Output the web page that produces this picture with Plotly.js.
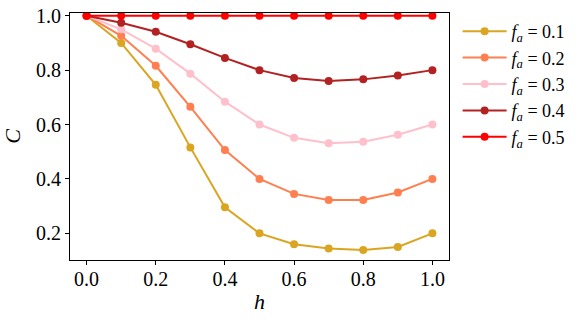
<!DOCTYPE html>
<html>
<head>
<meta charset="utf-8">
<script src="https://cdn.plot.ly/plotly-3.0.1.min.js"></script>
<style>
  html, body { margin: 0; padding: 0; background: #fff; }
  #chart { width: 581px; height: 323px; }
</style>
</head>
<body>
<div id="chart"></div>
<script>
const hValues = [0.0, 0.1, 0.2, 0.3, 0.4, 0.5, 0.6, 0.7, 0.8, 0.9, 1.0];

const c01 = [1.0, 0.90, 0.746, 0.516, 0.296, 0.20, 0.16, 0.144, 0.139, 0.15, 0.20];
const c02 = [1.0, 0.926, 0.816, 0.665, 0.506, 0.40, 0.345, 0.323, 0.323, 0.35, 0.40];
const c03 = [1.0, 0.95, 0.879, 0.787, 0.684, 0.60, 0.551, 0.531, 0.537, 0.5625, 0.60];
const c04 = [1.0, 0.974, 0.941, 0.895, 0.845, 0.80, 0.771, 0.76, 0.766, 0.78, 0.80];
const c05 = [1.0, 1.0, 1.0, 1.0, 1.0, 1.0, 1.0, 1.0, 1.0, 1.0, 1.0];

const seriesLabels = ['0.1', '0.2', '0.3', '0.4', '0.5'];
const seriesValues = [c01, c02, c03, c04, c05];
const seriesColors = ['#DAA520', '#FF7F50', '#FFC0CB', '#B22222', '#FF0000'];

const xTicks = [0.0, 0.2, 0.4, 0.6, 0.8, 1.0];
const yTicks = [0.2, 0.4, 0.6, 0.8, 1.0];

const serif = 'Liberation Serif, DejaVu Serif';

const traces = seriesValues.map((vals, i) => ({
    x: hValues,
    y: vals,
    type: 'scatter',
    mode: 'lines+markers',
    name: '<i>f</i><sub><i>a</i></sub> = ' + seriesLabels[i],
    line: { color: seriesColors[i], width: 2 },
    marker: { color: seriesColors[i], size: 8 }
}));

const axisBase = {
    showline: true,
    mirror: true,
    linecolor: '#000',
    linewidth: 1,
    showgrid: false,
    zeroline: false,
    ticks: 'outside',
    ticklen: 4,
    tickwidth: 1,
    tickcolor: '#000',
    tickfont: { family: serif, size: 20, color: '#000' }
};

const layout = {
    width: 581,
    height: 323,
    margin: { t: 13, r: 131, b: 63, l: 70 },
    paper_bgcolor: '#fff',
    plot_bgcolor: '#fff',
    font: { family: serif },
    showlegend: true,
    legend: {
        x: 1.02, xanchor: 'left', y: 1.0, yanchor: 'top',
        font: { family: serif, size: 18, color: '#000' },
        tracegroupgap: 0,
        itemwidth: 44
    },
    xaxis: {
        ...axisBase,
        range: [-0.048, 1.048],
        tickvals: xTicks,
        ticktext: xTicks.map(v => v.toFixed(1)),
        ticklabelstandoff: -3,
        title: { text: '<i>h</i>', font: { family: serif, size: 22, color: '#000' }, standoff: 4 }
    },
    yaxis: {
        ...axisBase,
        range: [0.102, 1.01],
        tickvals: yTicks,
        ticktext: yTicks.map(v => v.toFixed(1)),
        title: { text: '<i>C</i>', font: { family: serif, size: 22, color: '#000' }, standoff: 10 }
    }
};

Plotly.newPlot('chart', traces, layout, { displayModeBar: false, staticPlot: true });
</script>
</body>
</html>
